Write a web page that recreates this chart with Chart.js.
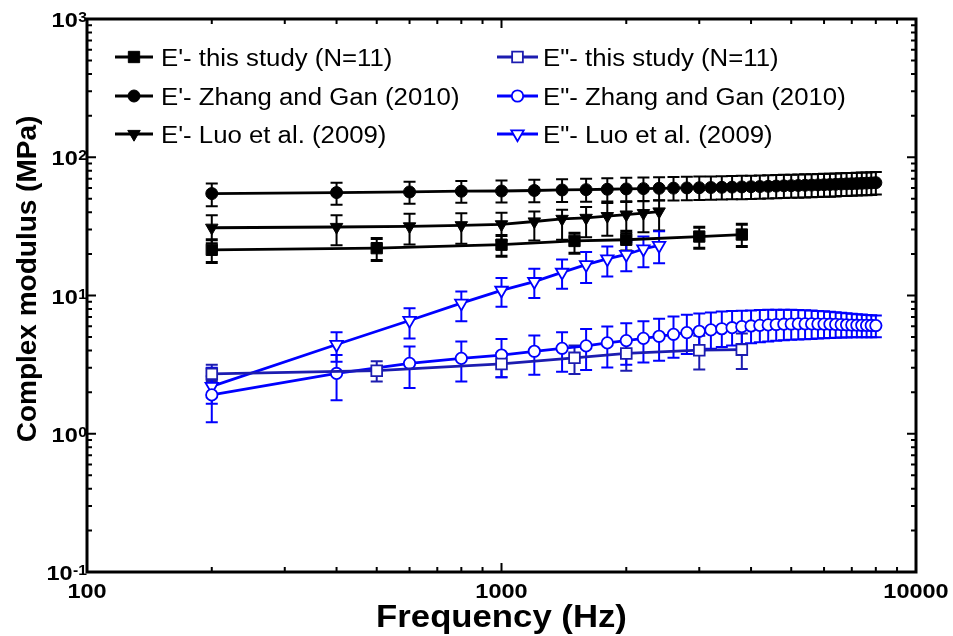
<!DOCTYPE html>
<html>
<head>
<meta charset="utf-8">
<script src="https://cdn.jsdelivr.net/npm/chart.js@4.4.1/dist/chart.umd.min.js"></script>
<style>
  html, body { margin: 0; padding: 0; background: #fff; }
  #wrap { width: 953px; height: 636px; }
</style>
</head>
<body>
<div id="wrap"><canvas id="chart" width="953" height="636"></canvas></div>
<script>
// Frequencies (Hz)
const freqThisStudy = [200, 500, 1000, 1500, 2000, 3000, 3800]
const freqZhang = [200, 400, 600, 800, 1000, 1200, 1400, 1600, 1800, 2000,
  2200, 2400, 2600, 2800, 3000, 3200, 3400, 3600, 3800, 4000,
  4200, 4400, 4600, 4800, 5000, 5200, 5400, 5600, 5800, 6000,
  6200, 6400, 6600, 6800, 7000, 7200, 7400, 7600, 7800, 8000]
const freqLuo = [200, 400, 600, 800, 1000, 1200, 1400, 1600, 1800, 2000, 2200, 2400]

// E' (storage modulus, MPa) with error bars
const storageThisStudy = [21.4, 22.0, 23.3, 24.8, 25.3, 26.7, 27.6]
const storageThisStudyPlus = [3.9, 3.8, 3.9, 3.4, 3.9, 4.5, 5.1]
const storageThisStudyMinus = [4.1, 4.1, 4.1, 4.6, 4.3, 4.7, 5.0]

const storageZhang = [54.6, 55.5, 56.1, 56.8, 57.0, 57.5, 58.0, 58.3, 58.7, 59.0,
  59.3, 59.6, 59.8, 60.0, 60.2, 60.4, 60.6, 60.8, 61.0, 61.2,
  61.4, 61.6, 61.9, 62.1, 62.3, 62.5, 62.7, 62.9, 63.1, 63.3,
  63.5, 63.7, 64.0, 64.2, 64.4, 64.6, 64.8, 65.0, 65.2, 65.5]
const storageZhangPlus = [9.9, 10.0, 10.3, 10.6, 11.0, 11.2, 11.4, 11.6, 11.8, 12.0,
  12.1, 12.2, 12.2, 12.2, 12.3, 12.3, 12.3, 12.3, 12.4, 12.4,
  12.4, 12.4, 12.5, 12.5, 12.5, 12.5, 12.5, 12.5, 12.6, 12.6,
  12.6, 12.6, 12.6, 12.6, 12.6, 12.7, 12.7, 12.7, 12.7, 12.7]
const storageZhangMinus = [10.4, 10.2, 10.1, 10.0, 10.0, 10.3, 10.5, 10.7, 10.9, 11.0,
  11.0, 11.0, 11.1, 11.1, 11.1, 11.2, 11.2, 11.2, 11.3, 11.3,
  11.3, 11.3, 11.4, 11.4, 11.4, 11.5, 11.5, 11.5, 11.5, 11.6,
  11.6, 11.6, 11.6, 11.7, 11.7, 11.7, 11.7, 11.8, 11.8, 11.8]

const storageLuo = [30.9, 31.3, 31.6, 32.2, 32.7, 34.3, 35.8, 36.4, 37.5, 38.5, 39.4, 40.5]
const storageLuoPlus = [7.1, 6.7, 7.4, 7.2, 7.0, 6.2, 5.9, 7.2, 9.1, 8.9, 8.7, 8.3]
const storageLuoMinus = [7.0, 8.2, 8.2, 8.5, 7.7, 9.3, 10.5, 10.0, 10.5, 10.3, 10.7, 11.0]

// E'' (loss modulus, MPa) with error bars
const lossThisStudy = [2.71, 2.86, 3.20, 3.54, 3.81, 4.02, 4.06]
const lossThisStudyPlus = [0.45, 0.48, 0.64, 0.80, 0.95, 1.10, 1.25]
const lossThisStudyMinus = [0.30, 0.47, 0.64, 0.83, 0.95, 1.10, 1.12]

const lossZhang = [1.91, 2.73, 3.23, 3.51, 3.71, 3.95, 4.15, 4.32, 4.54, 4.72,
  4.90, 5.07, 5.24, 5.39, 5.51, 5.64, 5.75, 5.85, 5.95, 6.02,
  6.08, 6.13, 6.17, 6.20, 6.22, 6.23, 6.23, 6.23, 6.22, 6.21,
  6.20, 6.18, 6.16, 6.14, 6.12, 6.10, 6.09, 6.08, 6.07, 6.06]
const lossZhangPlus = [0.70, 0.98, 1.04, 1.13, 1.14, 1.18, 1.27, 1.40, 1.42, 1.59,
  1.62, 1.72, 1.80, 1.88, 1.90, 1.90, 1.90, 1.88, 1.80, 1.78,
  1.78, 1.75, 1.72, 1.70, 1.67, 1.64, 1.60, 1.57, 1.52, 1.48,
  1.44, 1.40, 1.35, 1.31, 1.27, 1.23, 1.20, 1.16, 1.13, 1.10]
const lossZhangMinus = [0.70, 0.98, 1.09, 1.12, 1.15, 1.28, 1.34, 1.43, 1.52, 1.56,
  1.62, 1.69, 1.70, 1.62, 1.56, 1.52, 1.50, 1.50, 1.50, 1.50,
  1.49, 1.48, 1.47, 1.46, 1.44, 1.42, 1.40, 1.38, 1.34, 1.30,
  1.27, 1.24, 1.20, 1.17, 1.14, 1.12, 1.10, 1.09, 1.08, 1.07]

const lossLuo = [2.20, 4.42, 6.59, 8.80, 10.9, 12.6, 14.7, 16.7, 18.4, 19.8, 21.7, 23.0]
const lossLuoPlus = [0.8, 1.0, 1.5, 1.9, 2.5, 3.0, 3.5, 3.9, 4.2, 4.6, 5.0, 6.1]
const lossLuoMinus = [0.55, 1.1, 1.7, 2.3, 2.6, 3.0, 3.5, 4.4, 4.7, 4.8, 5.7, 5.9]

// Axis ticks
const xTickValues = [100, 1000, 10000]
const xTickLabels = ['100', '1000', '10000']
const yTickValues = [0.1, 1, 10, 100, 1000]
const yTickExponents = ['-1', '0', '1', '2', '3']

const BLACK = '#000000'
const BLUE = '#0000ff'
const NAVY = '#1c1cb0'
const FONT = "'Liberation Sans', Arial, sans-serif"
const STRETCH = 1.12   // the figure's text is slightly wide

function series(label, xs, ys, plus, minus, color, style) {
  return {
    label: label,
    data: xs.map((x, i) => ({ x: x, y: ys[i] })),
    errPlus: plus,
    errMinus: minus,
    borderColor: color,
    borderWidth: 2.8,
    pointStyle: style.shape,
    pointRotation: style.rotation || 0,
    pointRadius: style.radius,
    pointBorderWidth: style.open ? 1.8 : 1,
    pointBackgroundColor: style.open ? '#ffffff' : color,
    pointBorderColor: color,
    capWidth: style.capWidth || 2,
    order: style.order,
    column: style.column,
    row: style.row,
    tension: 0
  }
}

const datasets = [
  series("E'- this study (N=11)", freqThisStudy, storageThisStudy, storageThisStudyPlus, storageThisStudyMinus, BLACK,
    { shape: 'rect', radius: 8, order: 2, column: 0, row: 0, capWidth: 3 }),
  series("E'- Zhang and Gan (2010)", freqZhang, storageZhang, storageZhangPlus, storageZhangMinus, BLACK,
    { shape: 'circle', radius: 6, order: 0, column: 0, row: 1 }),
  series("E'- Luo et al. (2009)", freqLuo, storageLuo, storageLuoPlus, storageLuoMinus, BLACK,
    { shape: 'triangle', rotation: 180, radius: 7.2, order: 1, column: 0, row: 2 }),
  series('E"- this study (N=11)', freqThisStudy, lossThisStudy, lossThisStudyPlus, lossThisStudyMinus, NAVY,
    { shape: 'rect', radius: 7.6, open: true, order: 3, column: 1, row: 0 }),
  series('E"- Zhang and Gan (2010)', freqZhang, lossZhang, lossZhangPlus, lossZhangMinus, BLUE,
    { shape: 'circle', radius: 5.7, open: true, order: 4, column: 1, row: 1 }),
  series('E"- Luo et al. (2009)', freqLuo, lossLuo, lossLuoPlus, lossLuoMinus, BLUE,
    { shape: 'triangle', rotation: 180, radius: 7.2, open: true, order: 5, column: 1, row: 2 })
]

function wideText(ctx, text, x, y, align) {
  ctx.save()
  ctx.translate(x, y)
  ctx.scale(STRETCH, 1)
  ctx.textAlign = align
  ctx.fillText(text, 0, 0)
  ctx.restore()
}

// vertical error bars, drawn under the markers
const errorBars = {
  id: 'errorBars',
  beforeDatasetsDraw(chart) {
    const { ctx, scales: { x, y } } = chart
    const half = 6
    chart.data.datasets.forEach((ds) => {
      ctx.save()
      ctx.strokeStyle = ds.borderColor
      ds.data.forEach((p, j) => {
        const px = x.getPixelForValue(p.x)
        const top = y.getPixelForValue(p.y + ds.errPlus[j])
        const bot = y.getPixelForValue(p.y - ds.errMinus[j])
        ctx.lineWidth = 2
        ctx.beginPath()
        ctx.moveTo(px, top)
        ctx.lineTo(px, bot)
        ctx.stroke()
        ctx.lineWidth = ds.capWidth
        ctx.beginPath()
        ctx.moveTo(px - half, top)
        ctx.lineTo(px + half, top)
        ctx.moveTo(px - half, bot)
        ctx.lineTo(px + half, bot)
        ctx.stroke()
      })
      ctx.restore()
    })
  }
}

// box frame with inward log ticks on all four sides, plus tick labels and titles
const frame = {
  id: 'frame',
  afterDraw(chart) {
    const { ctx, chartArea: a, scales: { x, y } } = chart
    ctx.save()
    ctx.strokeStyle = BLACK
    ctx.lineWidth = 2
    ctx.beginPath()
    for (let d = 100; d <= 10000; d *= 10) {
      for (let m = 1; m < 10; m++) {
        const v = d * m
        if (v > 10000) break
        const px = x.getPixelForValue(v)
        const len = m === 1 ? 9 : 5
        ctx.moveTo(px, a.bottom); ctx.lineTo(px, a.bottom - len)
        ctx.moveTo(px, a.top); ctx.lineTo(px, a.top + len)
      }
    }
    for (let d = 0.1; d <= 1000; d *= 10) {
      for (let m = 1; m < 10; m++) {
        const v = d * m
        if (v > 1000.001) break
        const py = y.getPixelForValue(v)
        const len = m === 1 ? 9 : 5
        ctx.moveTo(a.left, py); ctx.lineTo(a.left + len, py)
        ctx.moveTo(a.right, py); ctx.lineTo(a.right - len, py)
      }
    }
    ctx.stroke()
    ctx.lineWidth = 3
    ctx.strokeRect(a.left, a.top, a.right - a.left, a.bottom - a.top)

    ctx.fillStyle = BLACK
    ctx.textBaseline = 'alphabetic'
    // x tick labels
    ctx.font = 'bold 21px ' + FONT
    xTickValues.forEach((v, i) => {
      wideText(ctx, xTickLabels[i], x.getPixelForValue(v), 598, 'center')
    })
    // y tick labels: 10 with superscript exponent
    yTickValues.forEach((v, i) => {
      const py = y.getPixelForValue(v)
      ctx.font = 'bold 14px ' + FONT
      const ew = ctx.measureText(yTickExponents[i]).width * STRETCH
      wideText(ctx, yTickExponents[i], 87, py + 3, 'right')
      ctx.font = 'bold 21px ' + FONT
      wideText(ctx, '10', 87 - ew - 0.5, py + 8, 'right')
    })
    // axis titles
    ctx.font = 'bold 31px ' + FONT
    wideText(ctx, 'Frequency (Hz)', (a.left + a.right) / 2, 627, 'center')
    ctx.save()
    ctx.translate(36, 279)
    ctx.rotate(-Math.PI / 2)
    ctx.font = 'bold 28px ' + FONT
    ctx.textAlign = 'center'
    ctx.fillText('Complex modulus (MPa)', 0, 0)
    ctx.restore()
    ctx.restore()
  }
}

// two-column legend inside the plot
const legendBox = {
  id: 'legendBox',
  afterDraw(chart) {
    const { ctx } = chart
    const cols = [{ x1: 115, x2: 153, tx: 161 }, { x1: 497, x2: 538, tx: 543 }]
    const rows = [57, 96, 134]
    ctx.save()
    chart.data.datasets.forEach((ds) => {
      const c = cols[ds.column]
      const ry = rows[ds.row]
      ctx.strokeStyle = ds.borderColor
      ctx.lineWidth = ds.borderWidth
      ctx.beginPath()
      ctx.moveTo(c.x1, ry)
      ctx.lineTo(c.x2, ry)
      ctx.stroke()
      ctx.fillStyle = ds.pointBackgroundColor
      ctx.strokeStyle = ds.pointBorderColor
      ctx.lineWidth = ds.pointBorderWidth
      Chart.helpers.drawPoint(ctx, {
        pointStyle: ds.pointStyle,
        rotation: ds.pointRotation,
        radius: ds.pointRadius,
        borderWidth: ds.pointBorderWidth
      }, (c.x1 + c.x2) / 2, ry)
      ctx.fillStyle = BLACK
      ctx.font = '23px ' + FONT
      ctx.textBaseline = 'alphabetic'
      wideText(ctx, ds.label, c.tx, ry + 8.5, 'left')
    })
    ctx.restore()
  }
}

new Chart(document.getElementById('chart'), {
  type: 'line',
  data: { datasets: datasets },
  plugins: [errorBars, frame, legendBox],
  options: {
    responsive: false,
    animation: false,
    devicePixelRatio: 1,
    layout: { padding: { left: 0, top: 19, right: 37, bottom: 0 } },
    scales: {
      x: {
        type: 'logarithmic',
        min: 100,
        max: 10000,
        grid: { display: false, drawTicks: false },
        border: { display: false },
        ticks: { display: false },
        afterFit: (s) => { s.height = 64 }
      },
      y: {
        type: 'logarithmic',
        min: 0.1,
        max: 1000,
        grid: { display: false, drawTicks: false },
        border: { display: false },
        ticks: { display: false },
        afterFit: (s) => { s.width = 87 }
      }
    },
    plugins: {
      legend: { display: false },
      tooltip: { enabled: false }
    }
  }
})
</script>
</body>
</html>
